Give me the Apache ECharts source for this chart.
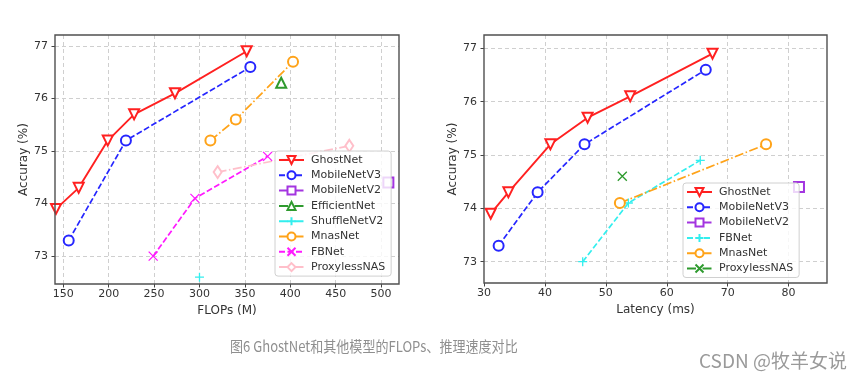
<!DOCTYPE html>
<html>
<head>
<meta charset="utf-8">
<script src="https://cdn.jsdelivr.net/npm/echarts@6/dist/echarts.min.js"></script>
<style>html,body{margin:0;padding:0;background:#fff}#c{width:865px;height:383px}</style>
</head>
<body>
<div id="c"></div>
<script>
// ---- Left chart: FLOPs vs accuracy ----
const ghostFlops = [142, 167, 199, 228, 273, 352];
const ghostAcc = [73.9, 74.3, 75.2, 75.7, 76.1, 76.9];
const mbv3Flops = [156, 219, 356];
const mbv3Acc = [73.3, 75.2, 76.6];
const mbv2Flops = [508];
const mbv2Acc = [74.4];
const effFlops = [390];
const effAcc = [76.3];
const shuffleFlops = [300];
const shuffleAcc = [72.6];
const mnasFlops = [312, 340, 403];
const mnasAcc = [75.2, 75.6, 76.7];
const fbnetFlops = [249, 295, 375];
const fbnetAcc = [73.0, 74.1, 74.9];
const proxyFlops = [320, 465];
const proxyAcc = [74.6, 75.1];

// ---- Right chart: latency vs accuracy ----
const ghostLat = [31.1, 34.0, 40.9, 47.0, 54.0, 67.5];
const ghostLatAcc = [73.9, 74.3, 75.2, 75.7, 76.1, 76.9];
const mbv3Lat = [32.4, 38.8, 46.5, 66.4];
const mbv3LatAcc = [73.3, 74.3, 75.2, 76.6];
const mbv2Lat = [81.7];
const mbv2LatAcc = [74.4];
const fbnetLat = [46.2, 53.7, 65.5];
const fbnetLatAcc = [73.0, 74.1, 74.9];
const mnasLat = [52.3, 76.3];
const mnasLatAcc = [74.1, 75.2];
const proxyLat = [52.7];
const proxyLatAcc = [74.6];

const leftNames = ['GhostNet','MobileNetV3','MobileNetV2','EfficientNet','ShuffleNetV2','MnasNet','FBNet','ProxylessNAS'];
const rightNames = ['GhostNet','MobileNetV3','MobileNetV2','FBNet','MnasNet','ProxylessNAS'];
const xLeftTicks = [150, 200, 250, 300, 350, 400, 450, 500];
const xRightTicks = [30, 40, 50, 60, 70, 80];
const yTicks = [73, 74, 75, 76, 77];

const zip = (a, b) => a.map((v, i) => [v, b[i]]);
const DASH = [6, 2.5];
const DASHDOT = [9, 2.5, 1.5, 2.5];
const PLUS = 'path://M0,5L10,5M5,0L5,10';
const CROSS = 'path://M0,0L10,10M10,0L0,10';

const C = {
  red: '#ff2020', blue: '#2626ff', purple: '#a335e0', green: '#2e9a2e',
  cyan: '#33eeee', orange: '#ffa319', magenta: '#ff1aff', pink: '#ffbfca'
};

function mk(name, data, idx, color, lineType, symbol, opts) {
  opts = opts || {};
  const isPath = symbol.indexOf('path://') === 0;
  return {
    type: 'line', name: name, xAxisIndex: idx, yAxisIndex: idx,
    data: data, color: color,
    symbol: symbol, symbolSize: opts.size || 10, symbolRotate: opts.rotate || 0,
    lineStyle: { color: color, width: opts.lw || 1.7, type: lineType },
    itemStyle: isPath ? { color: color, borderColor: color, borderWidth: 1.3 }
                      : { color: color, borderColor: color, borderWidth: 1 },
    emphasis: { disabled: true }, animation: false, z: 3
  };
}

function tickFormatter(ticks) {
  return function (v) {
    for (const t of ticks) if (Math.abs(v - t) < 1e-6) return String(t);
    return '';
  };
}

const font = 'DejaVu Sans';
const splitStyle = { color: '#cfcfcf', type: [4, 3], width: 1 };
function xAxis(idx, min, max, step, ticks, name, showMin) {
  return {
    type: 'value', gridIndex: idx, min: min, max: max,
    minInterval: step, maxInterval: step, splitNumber: 8,
    name: name, nameLocation: 'middle', nameGap: 16,
    nameTextStyle: { fontFamily: font, fontSize: 12, color: '#333' },
    axisLine: { show: false },
    axisTick: { show: true, length: 3.5, lineStyle: { color: '#444' } },
    axisLabel: { showMinLabel: showMin, showMaxLabel: false, margin: 5,
      fontFamily: font, fontSize: 11, color: '#333', formatter: tickFormatter(ticks) },
    splitLine: { show: true, showMinLine: false, showMaxLine: false, lineStyle: splitStyle }
  };
}
function yAxis(idx, min, max, gap) {
  return {
    type: 'value', gridIndex: idx, min: min, max: max,
    minInterval: 1, maxInterval: 1, splitNumber: 5,
    name: 'Accuray (%)', nameLocation: 'middle', nameGap: gap,
    nameTextStyle: { fontFamily: font, fontSize: 12, color: '#333' },
    axisLine: { show: false },
    axisTick: { show: true, length: 3.5, lineStyle: { color: '#444' } },
    axisLabel: { showMinLabel: false, showMaxLabel: false, margin: 7,
      fontFamily: font, fontSize: 11, color: '#333', formatter: tickFormatter(yTicks) },
    splitLine: { show: true, showMinLine: false, showMaxLine: false, lineStyle: splitStyle }
  };
}

const series = [
  mk('GhostNet', zip(ghostFlops, ghostAcc), 0, C.red, 'solid', 'emptyTriangle', { rotate: 180, lw: 1.9 }),
  mk('MobileNetV3', zip(mbv3Flops, mbv3Acc), 0, C.blue, DASH, 'emptyCircle'),
  mk('MobileNetV2', zip(mbv2Flops, mbv2Acc), 0, C.purple, DASHDOT, 'emptyRect'),
  mk('EfficientNet', zip(effFlops, effAcc), 0, C.green, DASHDOT, 'emptyTriangle'),
  mk('ShuffleNetV2', zip(shuffleFlops, shuffleAcc), 0, C.cyan, DASHDOT, PLUS, { size: 9 }),
  mk('MnasNet', zip(mnasFlops, mnasAcc), 0, C.orange, DASHDOT, 'emptyCircle'),
  mk('FBNet', zip(fbnetFlops, fbnetAcc), 0, C.magenta, DASH, CROSS, { size: 9 }),
  mk('ProxylessNAS', zip(proxyFlops, proxyAcc), 0, C.pink, DASHDOT, 'emptyDiamond', { size: [8, 12] }),

  mk('R:GhostNet', zip(ghostLat, ghostLatAcc), 1, C.red, 'solid', 'emptyTriangle', { rotate: 180, lw: 1.9 }),
  mk('R:MobileNetV3', zip(mbv3Lat, mbv3LatAcc), 1, C.blue, DASH, 'emptyCircle'),
  mk('R:MobileNetV2', zip(mbv2Lat, mbv2LatAcc), 1, C.purple, DASHDOT, 'emptyRect'),
  mk('R:FBNet', zip(fbnetLat, fbnetLatAcc), 1, C.cyan, DASH, PLUS, { size: 9 }),
  mk('R:MnasNet', zip(mnasLat, mnasLatAcc), 1, C.orange, DASHDOT, 'emptyCircle'),
  mk('R:ProxylessNAS', zip(proxyLat, proxyLatAcc), 1, C.green, DASHDOT, CROSS, { size: 9 })
];

function legend(names, left, top) {
  return {
    data: names, left: left, top: top, orient: 'vertical',
    itemWidth: 25, itemHeight: 10, itemGap: 3.3,
    padding: [3, 6, 3, 3],
    backgroundColor: 'rgba(255,255,255,0.8)', borderColor: '#d0d0d0', borderWidth: 1, borderRadius: 3,
    textStyle: { fontFamily: font, fontSize: 11, color: '#333', lineHeight: 12, padding: [0, 0, 0, 2] },
    formatter: n => n.replace(/^R:/, ''),
    selectedMode: false, z: 10
  };
}

const chart = echarts.init(document.getElementById('c'), null, { renderer: 'canvas' });
chart.setOption({
  backgroundColor: '#fff',
  animation: false,
  grid: [
    { left: 55, top: 35, width: 344, height: 249, show: true, borderColor: '#505050', borderWidth: 1.4, backgroundColor: 'transparent', z: 5 },
    { left: 484, top: 35, width: 343, height: 248, show: true, borderColor: '#505050', borderWidth: 1.4, backgroundColor: 'transparent', z: 5 }
  ],
  xAxis: [
    xAxis(0, 140.9, 519.7, 50, xLeftTicks, 'FLOPs (M)', false),
    xAxis(1, 30, 86.3, 10, xRightTicks, 'Latency (ms)', true)
  ],
  yAxis: [
    yAxis(0, 72.47, 77.21, 21),
    yAxis(1, 72.6, 77.25, 23)
  ],
  legend: [
    legend(leftNames, 275, 151),
    legend(rightNames.map(n => 'R:' + n), 683, 183)
  ],
  graphic: [
    { type: 'text', left: 230, top: 339, scaleX: 0.87, originX: 0,
      style: { text: '图6 GhostNet和其他模型的FLOPs、推理速度对比', font: '15px "Noto Sans CJK SC"', fill: '#8f8f8f' } },
    { type: 'text', left: 699, top: 351,
      style: { text: 'CSDN @牧羊女说', font: '19px "Noto Sans CJK SC"', fill: '#9a9a9a' } }
  ],
  series: series
});
</script>
</body>
</html>
